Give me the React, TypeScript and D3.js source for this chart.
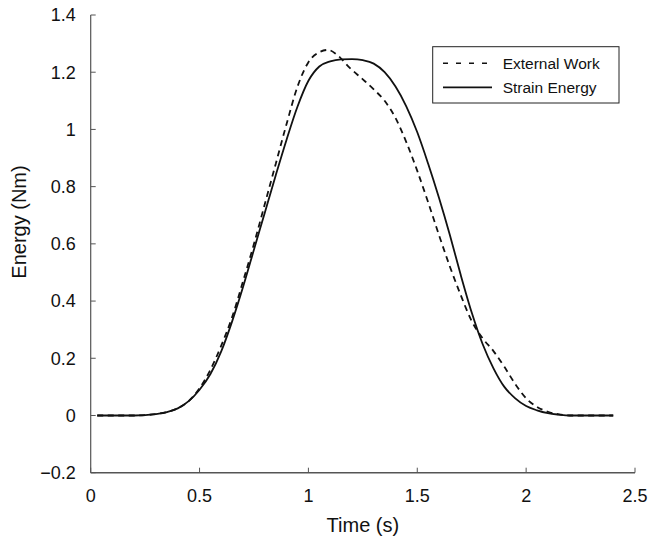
import React from "react";
import * as d3 from "d3";

const timeExt = [0.03, 0.2, 0.3, 0.35, 0.4, 0.45, 0.5, 0.55, 0.6, 0.65, 0.7, 0.75, 0.8, 0.85, 0.9, 0.95, 1.0, 1.05, 1.09, 1.13, 1.19, 1.25, 1.3, 1.35, 1.4, 1.45, 1.5, 1.55, 1.6, 1.65, 1.7, 1.75, 1.8, 1.85, 1.9, 1.95, 2.0, 2.05, 2.1, 2.15, 2.2, 2.4];
const externalWork = [0, 0, 0.005, 0.012, 0.025, 0.05, 0.095, 0.16, 0.245, 0.345, 0.47, 0.6, 0.74, 0.88, 1.02, 1.15, 1.235, 1.27, 1.278, 1.262, 1.215, 1.175, 1.14, 1.1, 1.04, 0.955, 0.855, 0.745, 0.63, 0.52, 0.42, 0.33, 0.27, 0.225, 0.17, 0.11, 0.06, 0.03, 0.013, 0.004, 0, 0];

const timeStrain = [0.03, 0.2, 0.3, 0.35, 0.4, 0.45, 0.5, 0.55, 0.6, 0.65, 0.7, 0.75, 0.8, 0.85, 0.9, 0.95, 1.0, 1.05, 1.1, 1.15, 1.2, 1.25, 1.3, 1.35, 1.4, 1.45, 1.5, 1.55, 1.6, 1.65, 1.7, 1.75, 1.8, 1.85, 1.9, 1.95, 2.0, 2.05, 2.1, 2.15, 2.2, 2.4];
const strainEnergy = [0, 0, 0.005, 0.012, 0.025, 0.05, 0.09, 0.145, 0.225, 0.33, 0.45, 0.58, 0.71, 0.84, 0.965, 1.08, 1.17, 1.22, 1.238, 1.245, 1.246, 1.242, 1.23, 1.2, 1.15, 1.08, 0.99, 0.88, 0.76, 0.63, 0.49, 0.36, 0.25, 0.165, 0.1, 0.06, 0.033, 0.018, 0.008, 0.003, 0, 0];

const xTicks = [0, 0.5, 1, 1.5, 2, 2.5];
const xTickLabels = ["0", "0.5", "1", "1.5", "2", "2.5"];
const yTicks = [-0.2, 0, 0.2, 0.4, 0.6, 0.8, 1, 1.2, 1.4];
const yTickLabels = ["\u22120.2", "0", "0.2", "0.4", "0.6", "0.8", "1", "1.2", "1.4"];
const legendLabels = ["External Work", "Strain Energy"];

const W = 650;
const H = 545;
const left = 90.7;
const right = 635;
const top = 15;
const bottom = 472.7;

export default function App() {
  const x = d3.scaleLinear().domain([0, 2.5]).range([left, right]);
  const y = d3.scaleLinear().domain([-0.2, 1.4]).range([bottom, top]);
  const line = d3
    .line<[number, number]>()
    .x((d) => x(d[0]))
    .y((d) => y(d[1]))
    .curve(d3.curveMonotoneX);
  const extPts: [number, number][] = timeExt.map((t, i) => [t, externalWork[i]]);
  const strPts: [number, number][] = timeStrain.map((t, i) => [t, strainEnergy[i]]);
  const font = "'Liberation Sans', Arial, Helvetica, sans-serif";
  const axisColor = "#555";
  const lineColor = "#111";
  const dash = "6,4.5";

  return (
    <svg
      width={W}
      height={H}
      style={{ position: "absolute", left: 0, top: 0, background: "#fff" }}
      fontFamily={font}
    >
      <rect x={0} y={0} width={W} height={H} fill="#fff" />
      <line x1={left} y1={top} x2={left} y2={bottom} stroke={axisColor} strokeWidth={1.2} />
      <line x1={left} y1={bottom} x2={right} y2={bottom} stroke={axisColor} strokeWidth={1.6} />
      {yTicks.map((v, i) => (
        <g key={"y" + i}>
          <line x1={left} x2={left + 5} y1={y(v)} y2={y(v)} stroke={axisColor} strokeWidth={1} />
          <text x={left - 15} y={y(v)} dy="0.35em" textAnchor="end" fontSize={18} fill="#111">
            {yTickLabels[i]}
          </text>
        </g>
      ))}
      {xTicks.map((v, i) => (
        <g key={"x" + i}>
          <line x1={x(v)} x2={x(v)} y1={bottom} y2={bottom - 5} stroke={axisColor} strokeWidth={1} />
          <text x={x(v)} y={bottom + 29} textAnchor="middle" fontSize={18} fill="#111">
            {xTickLabels[i]}
          </text>
        </g>
      ))}
      <text x={(left + right) / 2} y={532} textAnchor="middle" fontSize={20} fill="#111">
        Time (s)
      </text>
      <text
        transform={`translate(26, 222) rotate(-90)`}
        textAnchor="middle"
        fontSize={20}
        fill="#111"
      >
        Energy (Nm)
      </text>
      <path d={line(strPts) || ""} fill="none" stroke={lineColor} strokeWidth={1.8} />
      <path d={line(extPts) || ""} fill="none" stroke={lineColor} strokeWidth={1.8} strokeDasharray={dash} />
      <rect x={432.7} y={46.7} width={186.3} height={56.3} fill="#fff" stroke="#222" strokeWidth={1} />
      <line x1={443} x2={492} y1={63.3} y2={63.3} stroke={lineColor} strokeWidth={1.6} strokeDasharray="5,8" />
      <line x1={443} x2={492} y1={87.3} y2={87.3} stroke={lineColor} strokeWidth={1.8} />
      <text x={502.7} y={63.3} dy="0.35em" fontSize={15.5} fill="#111">
        {legendLabels[0]}
      </text>
      <text x={502.7} y={87.3} dy="0.35em" fontSize={15.5} fill="#111">
        {legendLabels[1]}
      </text>
    </svg>
  );
}
